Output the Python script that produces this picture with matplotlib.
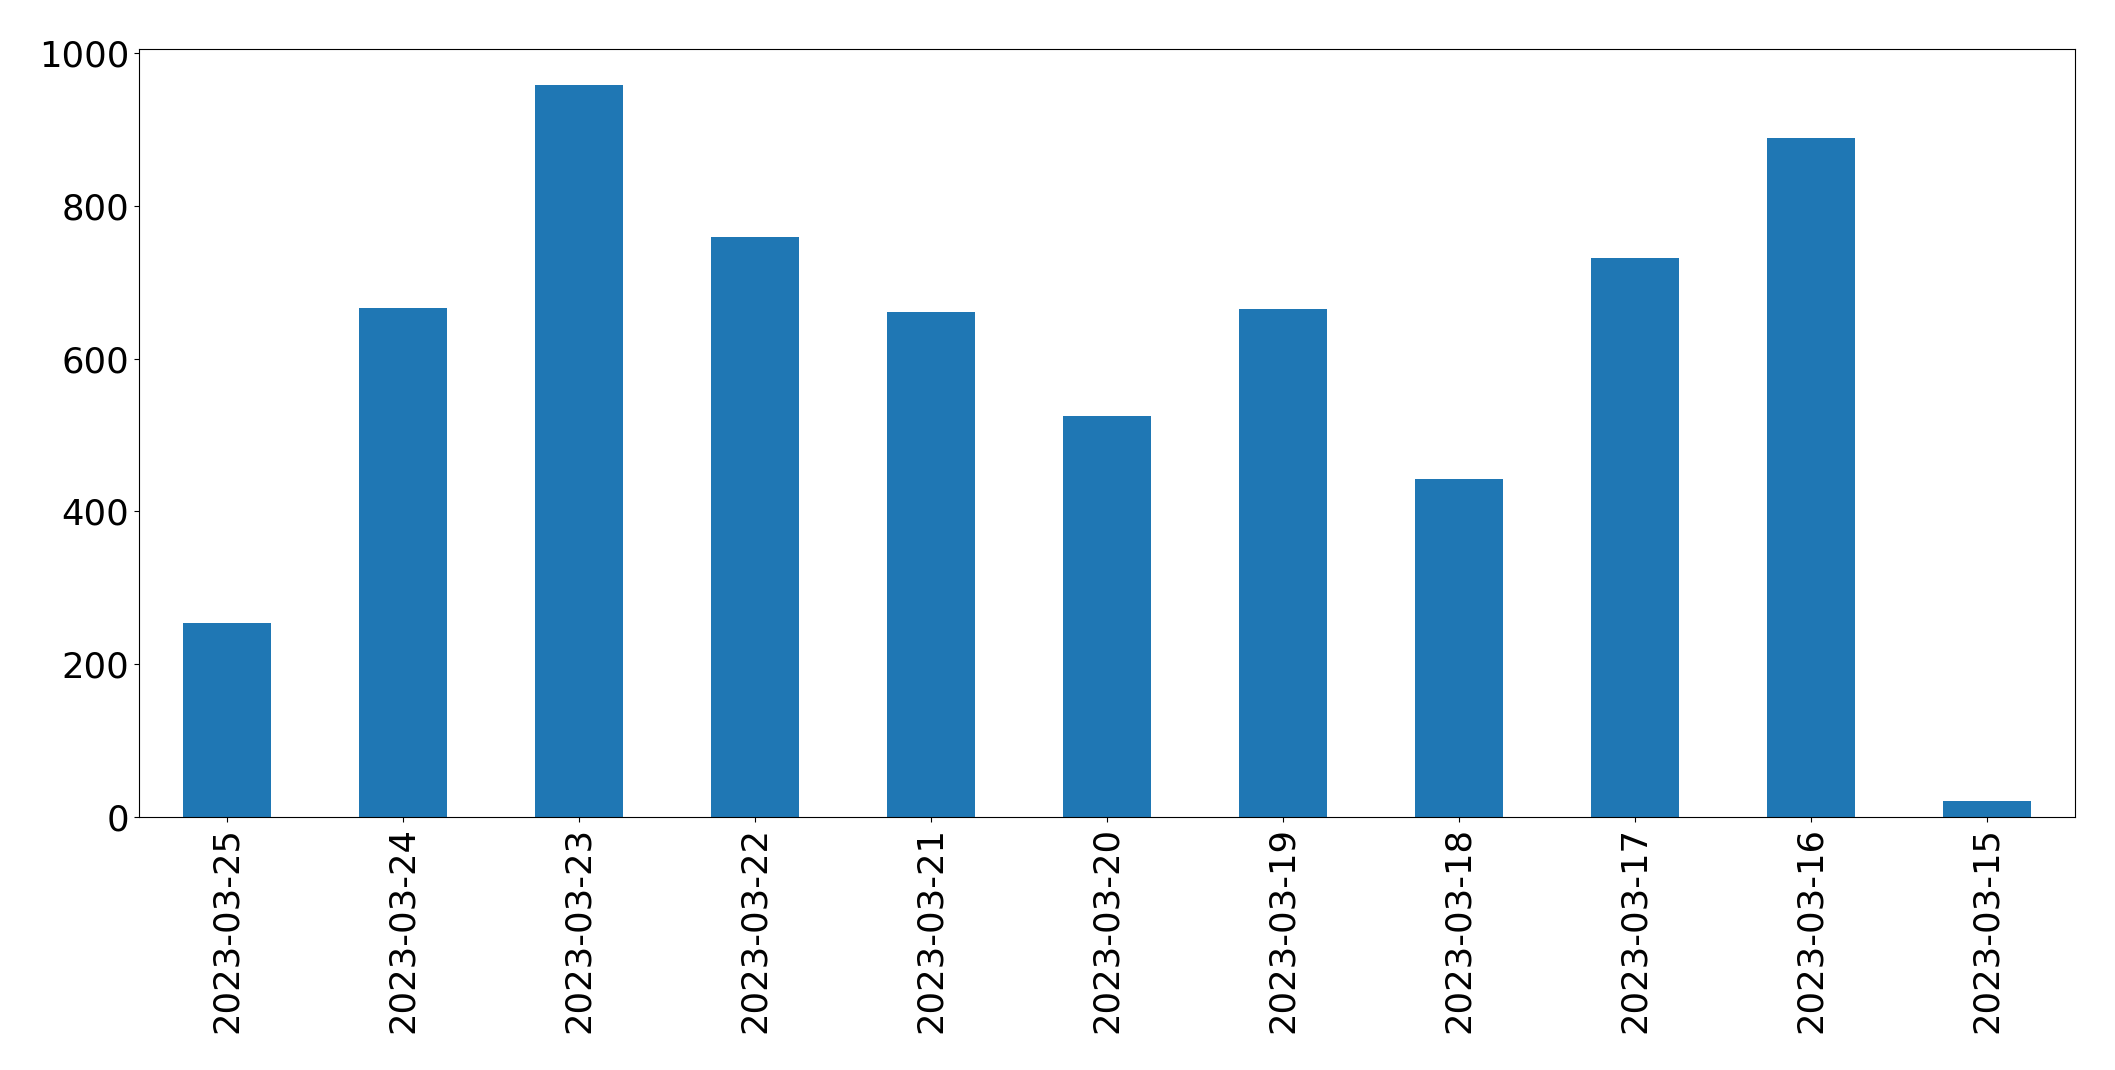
import numpy as np
import matplotlib
matplotlib.use('Agg')
import matplotlib.pyplot as plt

# Даты (по убыванию) и значения
dates = ['2023-03-25', '2023-03-24', '2023-03-23', '2023-03-22', '2023-03-21',
         '2023-03-20', '2023-03-19', '2023-03-18', '2023-03-17', '2023-03-16',
         '2023-03-15']
counts = [254, 666, 958, 759, 661, 525, 665, 443, 732, 889, 21]

fig = plt.figure(figsize=(21.15, 10.7), dpi=100)
ax = fig.add_axes([0.0657, 0.2364, 0.9153, 0.7182])

x = np.arange(len(dates))
ax.bar(x, counts, width=0.5, color='#1f77b4')
ax.set_xlim(-0.5, len(dates) - 0.5)
ax.set_xticks(x)
ax.set_xticklabels(dates, rotation=90)
ax.tick_params(axis='both', labelsize=25.5)

fig.savefig('out.png', dpi=100)
